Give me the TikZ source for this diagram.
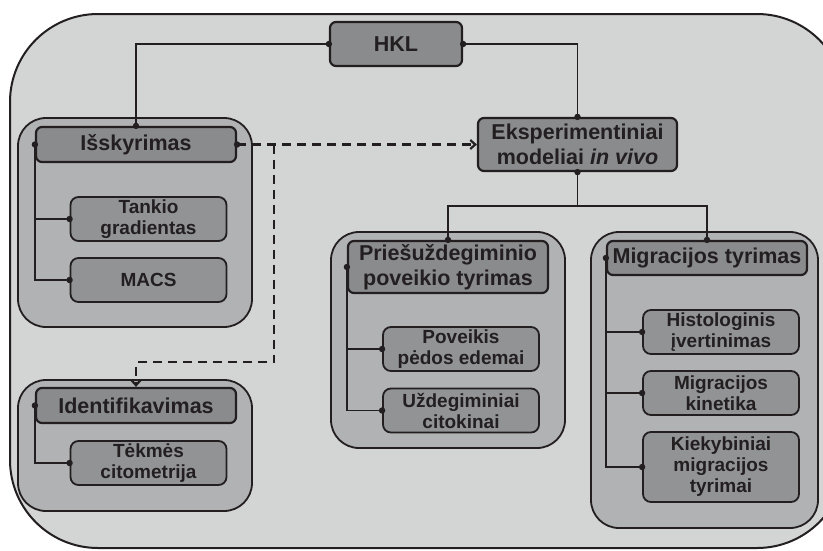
\documentclass[tikz,border=0pt]{standalone}
\usepackage{fontspec}
\setmainfont{Liberation Sans}
\usepackage{tikz}
\usetikzlibrary{arrows.meta,positioning}
\definecolor{bgcol}{RGB}{211,212,212}
\definecolor{panelcol}{RGB}{177,178,180}
\definecolor{boxcol}{RGB}{146,147,149}
\definecolor{headcol}{RGB}{138,139,141}
\definecolor{linecol}{RGB}{35,31,32}
\tikzset{>=latex}
\tikzset{
  outer/.style={draw=linecol, fill=bgcol, line width=2pt, rounded corners=88pt},
  panel/.style={draw=linecol, fill=panelcol, line width=1.8pt, rounded corners=28pt},
  head/.style={draw=linecol, fill=headcol, line width=2.2pt, rounded corners=6pt,
    text=linecol, align=center, inner sep=0pt, minimum width=200pt, minimum height=35pt,
    font=\fontsize{21.5}{25}\selectfont\bfseries},
  sub/.style={draw=linecol, fill=boxcol, line width=1.8pt, rounded corners=8pt,
    text=linecol, align=center, inner sep=0pt, minimum width=156pt, minimum height=44pt,
    font=\fontsize{19}{21}\selectfont\bfseries},
  link/.style={draw=linecol, line width=1.9pt},
  dlink/.style={link, line width=2.2pt, dash pattern=on 9pt off 6pt, -{Straight Barb[length=5pt,width=9pt]}}
}

\begin{document}
\begin{tikzpicture}[x=1pt,y=-1pt]
\clip (0,0) rectangle (823,550);
\draw[outer] (10,14) rectangle (845,548);

% groups
\draw[panel] (18,118) rectangle (252,327);
\draw[panel] (18,380) rectangle (252,511);
\draw[panel] (331,232) rectangle (565,448);
\draw[panel] (591,232) rectangle (818,528);

% boxes
\node[head, minimum width=132pt, minimum height=44pt] (hkl) at (396,44) {HKL};
\node[head, minimum width=199pt, minimum height=53pt] (eksp) at (577.5,144.5) {Eksperimentiniai\\modeliai \textit{in vivo}};
\node[head] (isk) at (136,144.5) {Išskyrimas};
\node[sub] (tank) at (148.5,219) {Tankio\\gradientas};
\node[sub] (macs) at (148.5,280) {MACS};
\node[head] (idf) at (136,405.5) {Identifikavimas};
\node[sub] (tek) at (148.5,463) {Tėkmės\\citometrija};
\node[head, minimum height=52pt] (prie) at (448,267) {Priešuždegiminio\\poveikio tyrimas};
\node[sub] (pov) at (461,349) {Poveikis\\pėdos edemai};
\node[sub] (uzd) at (461,410.5) {Uždegiminiai\\citokinai};
\node[head, minimum height=34pt] (mig) at (707,258) {Migracijos tyrimas};
\node[sub] (hist) at (721,332) {Histologinis\\įvertinimas};
\node[sub] (kin) at (721,393) {Migracijos\\kinetika};
\node[sub, minimum height=70pt] (kiek) at (721,467) {Kiekybiniai\\migracijos\\tyrimai};

% links
\draw[link] (hkl.west) -| (isk.north);
\draw[link] (hkl.east) -| (eksp.north);
\draw[link] (eksp.south) -- ++(0,34) coordinate (fork);
\draw[link] (fork) -| (prie.north);
\draw[link] (fork) -| (mig.north);
\draw[link] (isk.west) |- (tank.west);
\draw[link] (isk.west) |- (macs.west);
\draw[link] (idf.west) |- (tek.west);
\draw[link] (prie.west) |- (pov.west);
\draw[link] (prie.west) |- (uzd.west);
\draw[link] (mig.west) |- (hist.west);
\draw[link] (mig.west) |- (kin.west);
\draw[link] (mig.west) |- (kiek.west);

\coordinate (split) at (274,144.5);
\coordinate (turn) at (274,362);
\draw[dlink] (isk.east) -- (eksp.west);
\draw[dlink] (split) -- (turn) -| (idf.north);

\foreach \p in {hkl.west,hkl.east,isk.north,eksp.north,eksp.south,prie.north,mig.north,
  isk.west,isk.east,tank.west,macs.west,idf.west,tek.west,prie.west,pov.west,uzd.west,
  mig.west,hist.west,kin.west,kiek.west}
  \fill[linecol] (\p) circle (3.2pt);
\end{tikzpicture}
\end{document}
